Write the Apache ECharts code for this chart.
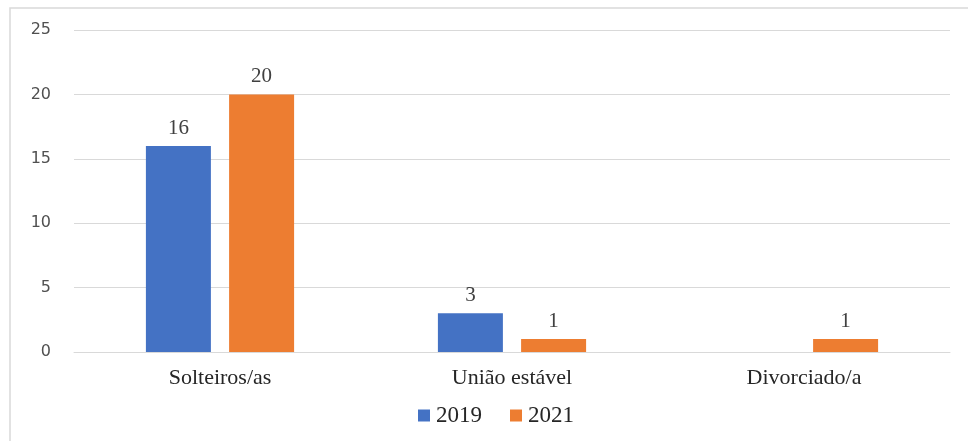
<!DOCTYPE html>
<html><head><meta charset="utf-8">
<script src="https://cdn.jsdelivr.net/npm/echarts@6/dist/echarts.min.js"></script>
<style>html,body{margin:0;padding:0;background:#fff}#c{width:968px;height:441px}</style>
</head><body><div id="c"></div>
<script>
const categories = ['Solteiros/as', 'União estável', 'Divorciado/a'];
const seriesNames = ['2019', '2021'];
const values2019 = [16, 3, null];
const values2021 = [20, 1, 1];
const yTicks = { min: 0, max: 25, interval: 5 };

const serif = '"Liberation Serif", "Times New Roman", serif';
const chart = echarts.init(document.getElementById('c'), null, { renderer: 'canvas' });
const lbl = { show: true, position: 'top', distance: 7, fontFamily: serif, fontSize: 21, color: '#404040' };
chart.setOption({
  animation: false,
  graphic: [{ type: 'rect', shape: { x: 10, y: 8, width: 980, height: 460 }, style: { fill: 'none', stroke: '#d9d9d9', lineWidth: 1.5 }, silent: true }],
  grid: { left: 74, right: 18, top: 30, bottom: 89 },
  legend: {
    data: seriesNames, bottom: 9, left: 413, itemWidth: 12, itemHeight: 12, itemGap: 28,
    icon: 'rect',
    textStyle: { fontFamily: serif, fontSize: 23, color: '#262626', padding: [0, 0, 0, 1] }
  },
  xAxis: {
    type: 'category', data: categories,
    axisLine: { show: true, lineStyle: { color: '#d9d9d9', width: 1 } },
    axisTick: { show: false },
    axisLabel: { fontFamily: serif, fontSize: 22, color: '#262626', margin: 15 }
  },
  yAxis: {
    type: 'value', min: yTicks.min, max: yTicks.max, interval: yTicks.interval,
    axisLine: { show: false }, axisTick: { show: false },
    splitLine: { lineStyle: { color: '#d9d9d9', width: 1 } },
    axisLabel: { fontFamily: '"DejaVu Sans", sans-serif', fontSize: 16, color: '#505050', margin: 23 }
  },
  series: [
    { name: seriesNames[0], type: 'bar', data: values2019, barWidth: 65, barGap: '28%', itemStyle: { color: '#4472C4' }, label: lbl },
    { name: seriesNames[1], type: 'bar', data: values2021, barWidth: 65, barGap: '28%', itemStyle: { color: '#ED7D31' }, label: lbl }
  ]
});
</script></body></html>
